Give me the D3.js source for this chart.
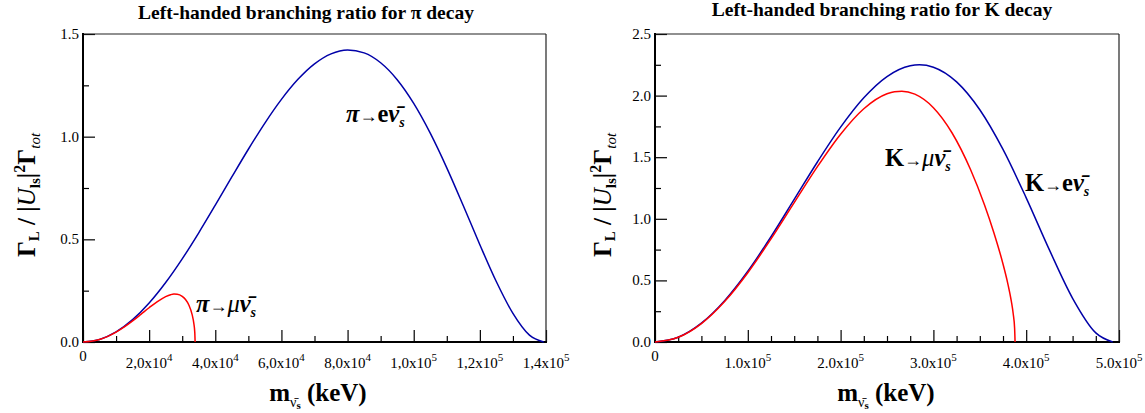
<!DOCTYPE html>
<html>
<head>
<meta charset="utf-8">
<script src="https://cdn.jsdelivr.net/npm/d3@7"></script>
<style>
  html, body { margin: 0; padding: 0; background: #fff; }
  svg { display: block; }
</style>
</head>
<body>
<svg id="chart" width="1145" height="413"></svg>
<script>
// ---------------- data (keV on x) ----------------
const piMassE   = [0, 5000, 10000, 15000, 20000, 25000, 30000, 35000, 40000, 45000, 50000, 55000, 60000, 65000, 70000, 75000, 80000, 85000, 90000, 95000, 100000, 105000, 110000, 115000, 120000, 125000, 130000, 135000, 139300];
const piRatioE  = [0, 0.0123, 0.0490, 0.1088, 0.1898, 0.2896, 0.4049, 0.5319, 0.6664, 0.8037, 0.9387, 1.0663, 1.1815, 1.2791, 1.3545, 1.4033, 1.4221, 1.4082, 1.3600, 1.2775, 1.1620, 1.0171, 0.8483, 0.6635, 0.4739, 0.2932, 0.1393, 0.0333, 0];

const piMassMu  = [0, 2500, 5000, 7500, 10000, 12500, 15000, 17500, 20000, 22500, 25000, 26500, 27500, 28500, 30000, 31000, 32000, 33000, 33500, 33800, 33900];
const piRatioMu = [0, 0.0031, 0.0123, 0.0274, 0.0481, 0.0735, 0.1029, 0.1346, 0.1669, 0.1971, 0.2212, 0.2304, 0.2333, 0.2327, 0.2226, 0.2070, 0.1805, 0.1333, 0.0921, 0.0470, 0];

const kMassE    = [0, 25000, 50000, 75000, 100000, 125000, 150000, 175000, 200000, 225000, 250000, 275000, 285000, 300000, 325000, 350000, 375000, 400000, 425000, 450000, 475000, 493200];
const kRatioE   = [0, 0.0388, 0.1529, 0.3352, 0.5742, 0.8544, 1.1572, 1.4612, 1.7439, 1.9824, 2.1549, 2.2425, 2.2504, 2.2307, 2.1113, 1.8850, 1.5630, 1.1702, 0.7476, 0.3548, 0.0739, 0];

const kMassMu   = [0, 25000, 50000, 75000, 100000, 125000, 150000, 175000, 200000, 225000, 250000, 258000, 266000, 280000, 300000, 320000, 340000, 355000, 365000, 375000, 380000, 384000, 386000, 387500, 388000];
const kRatioMu  = [0, 0.0380, 0.1498, 0.3285, 0.5625, 0.8365, 1.1310, 1.4230, 1.6866, 1.8937, 2.0155, 2.0321, 2.0362, 2.0118, 1.9019, 1.6985, 1.3998, 1.1139, 0.8912, 0.6332, 0.4801, 0.3294, 0.2291, 0.1132, 0];

const piXTicks      = [0, 20000, 40000, 60000, 80000, 100000, 120000, 140000];
const piXTickLabels = ["0", "2,0x10^4", "4,0x10^4", "6,0x10^4", "8,0x10^4", "1,0x10^5", "1,2x10^5", "1,4x10^5"];
const piXMinor      = [10000, 30000, 50000, 70000, 90000, 110000, 130000];
const piYTicks      = [0, 0.5, 1.0, 1.5];
const piYTickLabels = ["0.0", "0.5", "1.0", "1.5"];
const piYMinor      = [0.25, 0.75, 1.25];

const kXTicks       = [0, 100000, 200000, 300000, 400000, 500000];
const kXTickLabels  = ["0", "1.0x10^5", "2.0x10^5", "3.0x10^5", "4.0x10^5", "5.0x10^5"];
const kXMinor       = [25000, 50000, 75000, 125000, 150000, 175000, 225000, 250000, 275000, 325000, 350000, 375000, 425000, 450000, 475000];
const kYTicks       = [0, 0.5, 1.0, 1.5, 2.0, 2.5];
const kYTickLabels  = ["0.0", "0.5", "1.0", "1.5", "2.0", "2.5"];
const kYMinor       = [0.25, 0.75, 1.25, 1.75, 2.25];

const titles = ["Left-handed branching ratio for \u03c0 decay", "Left-handed branching ratio for K decay"];

// ---------------- drawing ----------------
const SERIF = "'Liberation Serif', 'Times New Roman', Times, 'DejaVu Serif', serif";
const svg = d3.select("#chart");
const BLUE = "#0000a8", RED = "#ff0000";

function txt(sel) { return sel.append("text").style("font-family", SERIF); }

function panel(cfg) {
  const x = d3.scaleLinear().domain(cfg.xDomain).range(cfg.xRange);
  const y = d3.scaleLinear().domain(cfg.yDomain).range([342, 34]);
  const g = svg.append("g");

  // ticks (inward)
  const ax = (vals, size) => g.append("g").attr("transform", `translate(0,${y(0)})`)
    .call(d3.axisBottom(x).tickValues(vals).tickSize(-size).tickFormat(""))
    .call(a => a.select(".domain").remove())
    .call(a => a.selectAll("line").attr("stroke", "#000").attr("stroke-width", 1.2));
  ax(cfg.xTicks, 12); ax(cfg.xMinor, 6);
  const ay = (vals, size) => g.append("g").attr("transform", `translate(${x(0)},0)`)
    .call(d3.axisLeft(y).tickValues(vals).tickSize(-size).tickFormat(""))
    .call(a => a.select(".domain").remove())
    .call(a => a.selectAll("line").attr("stroke", "#000").attr("stroke-width", 1.2));
  ay(cfg.yTicks, 12); ay(cfg.yMinor, 6);

  // frame
  const [x0, x1] = cfg.xRange;
  g.append("line").attr("x1", x0).attr("x2", x1).attr("y1", 34).attr("y2", 34).attr("stroke", "#222").attr("stroke-width", 1.2);
  g.append("line").attr("x1", x1).attr("x2", x1).attr("y1", 34).attr("y2", 342).attr("stroke", "#222").attr("stroke-width", 1.2);
  g.append("line").attr("x1", x0).attr("x2", x0).attr("y1", 33).attr("y2", 343).attr("stroke", "#000").attr("stroke-width", 2);
  g.append("line").attr("x1", x0 - 1).attr("x2", x1 + 1).attr("y1", 342).attr("y2", 342).attr("stroke", "#000").attr("stroke-width", 2);

  // y tick labels
  cfg.yTicks.forEach((v, i) => {
    txt(g).attr("x", x0 - 4).attr("y", y(v) + 5)
      .attr("text-anchor", "end").attr("font-size", 15).text(cfg.yTickLabels[i]);
  });
  // x tick labels
  cfg.xTicks.forEach((v, i) => {
    const lab = cfg.xTickLabels[i];
    const parts = lab.split("^");
    const t = txt(g).attr("x", x(v)).attr("text-anchor", "middle").attr("font-size", 15);
    if (parts.length === 1) {
      t.attr("y", 361).text(parts[0]);
    } else {
      t.attr("y", 368);
      t.append("tspan").text(parts[0]);
      t.append("tspan").attr("dy", -7).attr("font-size", 11).text(parts[1]);
    }
  });

  // curves
  const line = d3.line().x(d => x(d[0])).y(d => y(d[1])).curve(d3.curveMonotoneX);
  cfg.series.forEach(s => {
    g.append("path").datum(d3.zip(s.x, s.y)).attr("d", line)
      .attr("fill", "none").attr("stroke", s.color).attr("stroke-width", 1.5);
  });

  // title
  txt(g).attr("x", cfg.titleX).attr("y", cfg.titleY).attr("text-anchor", "middle")
    .attr("font-size", 19.5).attr("font-weight", "bold").text(cfg.title);

  // x axis title
  const xt = txt(g).attr("x", cfg.xTitleX).attr("y", 401).attr("text-anchor", "middle")
    .attr("font-size", 25).attr("font-weight", "bold");
  xt.append("tspan").text("m");
  xt.append("tspan").attr("dy", 6).attr("font-size", 14).attr("font-weight", "normal").text("\u03bd\u0304");
  xt.append("tspan").attr("dy", 2).attr("font-size", 11).attr("font-weight", "bold").text("s");
  xt.append("tspan").attr("dy", -8).text(" (keV)");

  // y axis title
  const yt = txt(g).attr("transform", `translate(${cfg.yTitleX},${195}) rotate(-90)`)
    .attr("text-anchor", "middle").attr("font-size", 25).attr("font-weight", "bold");
  yt.append("tspan").text("\u0393");
  yt.append("tspan").attr("dy", 4).attr("font-size", 15).text("L");
  yt.append("tspan").attr("dy", -4).text(" / |");
  yt.append("tspan").attr("font-style", "italic").attr("font-weight", "normal").text("U");
  yt.append("tspan").attr("dy", 5).attr("font-size", 15).text("ls");
  yt.append("tspan").attr("dy", -5).text("|");
  yt.append("tspan").attr("dy", -10).attr("font-size", 16).text("2");
  yt.append("tspan").attr("dy", 10).text("\u0393");
  yt.append("tspan").attr("dy", 5).attr("font-size", 15).attr("font-style", "italic").attr("font-weight", "normal").text("tot");

  // annotations
  cfg.notes.forEach(n => {
    const t = txt(g).attr("x", n.x).attr("y", n.y).attr("font-size", 24.5).attr("font-weight", "bold");
    t.append("tspan").attr("font-style", n.italicHead ? "italic" : "normal").text(n.head);
    t.append("tspan").attr("font-size", 18).attr("font-weight", "normal").text("\u2192");
    t.append("tspan").attr("font-style", n.italicLep ? "italic" : "normal").attr("font-weight", n.italicLep ? "normal" : "bold").text(n.lep);
    t.append("tspan").attr("font-style", "italic").text("\u03bd\u0304");
    t.append("tspan").attr("dy", 5).attr("font-size", 14).attr("font-style", "italic").text("s");
  });
}

panel({
  xDomain: [0, 140000], xRange: [83, 546], yDomain: [0, 1.5],
  xTicks: piXTicks, xTickLabels: piXTickLabels, xMinor: piXMinor,
  yTicks: piYTicks, yTickLabels: piYTickLabels, yMinor: piYMinor,
  series: [{x: piMassE, y: piRatioE, color: BLUE}, {x: piMassMu, y: piRatioMu, color: RED}],
  title: titles[0], titleX: 306, titleY: 19,
  xTitleX: 318, yTitleX: 35,
  notes: [
    {x: 346, y: 122, head: "\u03c0", italicHead: true, lep: "e", italicLep: false},
    {x: 196, y: 312, head: "\u03c0", italicHead: true, lep: "\u03bc", italicLep: true}
  ]
});

panel({
  xDomain: [0, 500000], xRange: [655, 1119], yDomain: [0, 2.5],
  xTicks: kXTicks, xTickLabels: kXTickLabels, xMinor: kXMinor,
  yTicks: kYTicks, yTickLabels: kYTickLabels, yMinor: kYMinor,
  series: [{x: kMassE, y: kRatioE, color: BLUE}, {x: kMassMu, y: kRatioMu, color: RED}],
  title: titles[1], titleX: 882, titleY: 16,
  xTitleX: 886, yTitleX: 611,
  notes: [
    {x: 885, y: 166, head: "K", italicHead: false, lep: "\u03bc", italicLep: true},
    {x: 1025, y: 191, head: "K", italicHead: false, lep: "e", italicLep: false}
  ]
});
</script>
</body>
</html>
